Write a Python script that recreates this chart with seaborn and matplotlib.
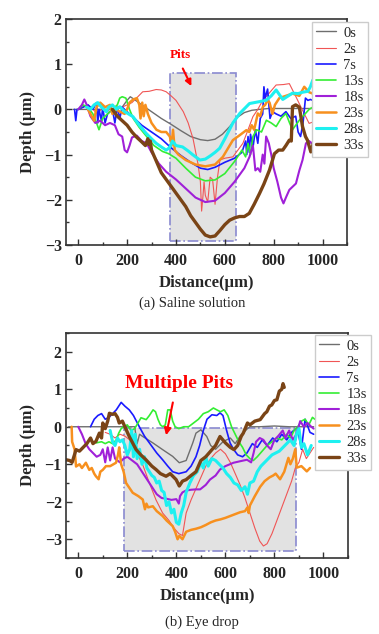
import matplotlib
matplotlib.use("Agg")
import matplotlib.pyplot as plt
import matplotlib.patches as mpatches
from matplotlib.ticker import MultipleLocator
import seaborn as sns

sns.set_style("ticks")
plt.rcParams['font.family'] = ['Liberation Serif', 'DejaVu Serif']
plt.rcParams['axes.unicode_minus'] = True

labels = ["0s", "2s", "7s", "13s", "18s", "23s", "28s", "33s"]
colors = ["#6e6e6e", "#f05555", "#1a1aff", "#33ee33", "#a020d8", "#f7901e", "#1ef0f0", "#7a4416"]
widths = [1.0, 0.8, 1.2, 1.2, 1.5, 1.8, 2.2, 2.4]

# ---- (a) Saline solution ----
sal_0s_x = [-20, 50, 100, 150, 180, 200, 213, 230, 260, 300, 340, 380, 420, 460, 500, 530, 560, 590, 620, 650, 680, 710, 740, 780, 850, 960]
sal_0s_y = [0, 0, 0, 0, 0.05, 0.2, 0.28, 0.22, 0.1, -0.05, -0.2, -0.33, -0.47, -0.6, -0.67, -0.69, -0.66, -0.55, -0.38, -0.18, -0.07, -0.02, 0, 0.02, 0.02, 0.02]

sal_2s_x = [0, 20, 40, 60, 80, 100, 120, 140, 160, 180, 200, 220, 244, 264, 290, 319, 340, 360, 380, 400, 430, 450, 470, 490, 500, 505, 510, 515, 520, 530, 540, 550, 560, 570, 580, 600, 633, 674, 695, 715, 735, 755, 780, 810, 840, 864, 891, 918, 945, 960]
sal_2s_y = [0, 0.05, 0.1, 0.0, -0.1, 0.05, -0.05, 0.1, 0.0, 0.05, 0.1, 0.15, 0.28, 0.39, 0.4, 0.44, 0.43, 0.39, 0.3, 0.2, -0.05, -0.3, -0.65, -1.2, -1.6, -2.25, -1.95, -1.6, -1.9, -2.05, -1.5, -1.55, -2.1, -1.5, -1.12, -1.08, -1.05, -0.75, -0.45, -0.16, 0.0, 0.2, 0.35, 0.54, 0.55, 0.57, 0.28, -0.02, -0.31, -0.28]

sal_7s_x = [-15, -10, -5, 0, 20, 40, 60, 75, 80, 85, 95, 100, 110, 120, 140, 150, 160, 170, 180, 200, 230, 260, 300, 340, 380, 420, 460, 500, 530, 560, 600, 640, 670, 685, 690, 695, 700, 705, 715, 725, 735, 745, 755, 760, 765, 775, 785, 795, 810, 830, 850, 870, 890, 900, 910, 920, 930, 940, 950, 960]
sal_7s_y = [0, -0.25, 0.0, 0.0, 0.05, 0.1, 0.0, 0.15, -0.3, 0.0, -0.25, 0.05, -0.3, -0.1, 0.0, -0.3, 0.05, -0.2, 0.05, -0.05, -0.2, -0.35, -0.5, -0.65, -0.85, -1.02, -1.17, -1.3, -1.33, -1.28, -1.17, -1.08, -0.95, -0.7, -1.0, -0.6, -0.95, -0.55, -0.85, -0.45, -0.75, -0.2, -0.1, 0.5, 0.25, 0.45, -0.2, -0.05, -0.1, -0.15, -0.05, -0.2, -0.15, -0.5, -0.6, -0.3, 0.25, 0.2, 0.22, 0.2]

sal_13s_x = [0, 20, 40, 60, 75, 85, 100, 120, 140, 160, 170, 180, 195, 210, 225, 250, 280, 310, 345, 370, 400, 440, 480, 520, 560, 600, 640, 670, 685, 695, 705, 715, 730, 750, 770, 790, 810, 830, 850, 865, 877, 890, 905, 920, 945, 960]
sal_13s_y = [0.0, 0.1, 0.05, -0.1, -0.3, -0.45, -0.2, -0.1, 0.0, 0.1, 0.25, 0.28, 0.25, 0.0, -0.2, -0.4, -0.6, -0.8, -0.93, -0.98, -1.08, -1.3, -1.5, -1.58, -1.56, -1.42, -1.15, -0.9, -1.05, -0.75, -1.0, -0.6, -0.45, -0.5, -0.24, -0.3, -0.38, -0.2, -0.09, -0.3, -0.45, -0.35, -0.24, -0.15, 0.0, 0.05]

sal_18s_x = [0, 15, 25, 35, 50, 70, 90, 110, 130, 150, 165, 180, 190, 200, 210, 220, 240, 260, 280, 300, 330, 360, 400, 440, 480, 520, 560, 600, 640, 680, 701, 715, 725, 735, 745, 755, 762, 769, 780, 790, 800, 815, 830, 840, 850, 864, 891, 905, 918, 932, 945, 955, 960]
sal_18s_y = [0.0, 0.1, 0.22, 0.1, -0.15, -0.3, -0.25, -0.35, -0.3, -0.35, -0.55, -0.6, -0.9, -0.95, -0.8, -0.62, -0.58, -0.7, -0.75, -0.95, -1.2, -1.38, -1.55, -1.75, -1.95, -2.05, -2.02, -1.85, -1.6, -1.3, -1.05, -0.8, -1.35, -1.3, -1.38, -1.0, -1.2, -0.6, -0.75, -1.0, -1.3, -1.6, -1.95, -2.08, -1.95, -1.78, -1.64, -1.35, -1.12, -0.75, -0.7, -0.75, -0.72]

sal_23s_x = [40, 55, 65, 75, 90, 110, 130, 140, 155, 170, 190, 200, 210, 225, 240, 250, 255, 262, 268, 275, 285, 300, 320, 340, 360, 375, 382, 388, 395, 410, 440, 480, 520, 560, 592, 633, 661, 688, 700, 710, 720, 735, 745, 755, 765, 775, 783, 795, 805, 823, 850, 877, 905, 925, 945, 960]
sal_23s_y = [0.0, -0.15, -0.25, 0.05, 0.15, 0.05, 0.1, -0.1, 0.0, -0.05, -0.1, 0.0, 0.15, 0.22, 0.25, 0.1, -0.2, 0.15, -0.15, 0.1, -0.1, -0.3, -0.45, -0.5, -0.5, -0.6, -0.8, -0.45, -0.9, -1.0, -1.12, -1.22, -1.26, -1.22, -1.05, -0.68, -0.57, -0.46, -0.5, -0.35, -0.45, -0.09, -0.15, 0.05, 0.1, 0.2, 0.15, -0.1, 0.1, 0.25, 0.3, 0.35, 0.3, 0.5, 0.38, 0.35]

sal_28s_x = [34, 50, 65, 80, 95, 115, 125, 140, 155, 170, 190, 224, 250, 278, 300, 319, 340, 360, 373, 386, 400, 427, 450, 468, 498, 520, 540, 560, 579, 600, 633, 661, 701, 740, 769, 790, 810, 837, 860, 877, 900, 918, 940, 950, 960]
sal_28s_y = [0.05, 0.0, 0.1, 0.15, 0.05, -0.05, 0.05, 0.1, 0.0, 0.06, -0.05, -0.16, -0.35, -0.53, -0.65, -0.75, -0.83, -0.9, -0.85, -0.7, -0.8, -0.83, -0.92, -1.0, -1.12, -1.1, -1.03, -0.95, -0.86, -0.65, -0.3, -0.09, 0.13, 0.17, 0.2, 0.3, 0.43, 0.22, 0.3, 0.36, 0.35, 0.38, 0.4, 0.5, 0.65]

sal_33s_x = [140, 160, 180, 200, 220, 240, 260, 275, 285, 290, 295, 300, 320, 340, 360, 380, 400, 420, 440, 460, 480, 500, 520, 540, 560, 580, 600, 620, 640, 660, 680, 700, 720, 742, 760, 783, 803, 820, 837, 850, 864, 872, 877, 890, 905, 918, 930, 938, 952, 965]
sal_33s_y = [0.0, -0.15, -0.25, -0.35, -0.5, -0.62, -0.72, -0.8, -0.65, -0.78, -0.7, -0.9, -1.15, -1.4, -1.55, -1.7, -1.85, -2.0, -2.15, -2.35, -2.5, -2.65, -2.78, -2.82, -2.8, -2.68, -2.55, -2.45, -2.4, -2.37, -2.37, -2.3, -2.1, -1.86, -1.65, -1.34, -0.98, -0.9, -0.9, -0.8, -0.68, -0.7, 0.06, 0.1, 0.05, -0.38, -0.6, -0.68, -0.94, -0.7]

# ---- (b) Eye drop ----
eye_0s_x = [-40, 0, 50, 100, 150, 200, 230, 240, 250, 263, 304, 344, 385, 412, 440, 467, 480, 500, 524, 540, 560, 590, 620, 640, 660, 690, 700, 740, 800, 860, 920, 960]
eye_0s_y = [0, 0, 0, 0, 0, 0, 0, -0.45, -0.2, -0.26, -0.43, -0.61, -0.79, -0.96, -0.9, -0.43, -0.17, -0.08, -0.26, -0.5, -0.6, -0.4, -0.3, -0.45, -0.25, -0.05, 0.0, 0.0, 0.02, 0.0, 0.0, 0.0]

eye_2s_x = [110, 130, 150, 170, 190, 210, 230, 250, 265, 290, 317, 344, 370, 390, 410, 425, 440, 460, 480, 500, 520, 540, 560, 580, 600, 620, 640, 660, 680, 700, 720, 740, 755, 770, 790, 810, 830, 850, 870, 885, 900, 915, 930, 945, 960]
eye_2s_y = [-0.15, -0.2, -0.3, -0.2, -0.25, -0.35, -0.5, -0.85, -1.05, -1.5, -1.95, -2.3, -2.5, -2.7, -2.85, -2.9, -2.3, -1.95, -1.65, -1.35, -1.05, -0.85, -0.7, -0.6, -0.72, -0.95, -1.25, -1.55, -1.9, -2.3, -2.7, -3.05, -3.18, -3.12, -2.85, -2.5, -2.15, -1.8, -1.45, -1.1, -0.95, -0.6, -0.85, -0.7, -0.55]

eye_7s_x = [50, 65, 80, 95, 110, 125, 140, 155, 175, 190, 208, 225, 249, 270, 290, 320, 344, 365, 385, 410, 440, 460, 480, 495, 510, 525, 545, 565, 578, 590, 605, 619, 633, 650, 670, 688, 710, 730, 750, 770, 793, 810, 830, 850, 870, 893, 910, 925, 945, 960]
eye_7s_y = [0.0, 0.2, 0.3, 0.35, 0.2, 0.25, 0.35, 0.45, 0.65, 0.55, 0.45, 0.3, 0.0, -0.25, -0.43, -0.7, -0.88, -1.05, -1.2, -1.25, -1.2, -1.05, -0.8, -0.5, -0.1, 0.2, 0.32, 0.3, 0.37, 0.3, -0.1, -0.43, -0.6, -0.75, -0.8, -0.7, -0.45, -0.55, -0.35, -0.5, -0.3, -0.4, -0.2, -0.35, -0.15, -0.02, -0.6, 0.2, -0.15, -0.2]

eye_13s_x = [73, 95, 110, 125, 140, 155, 165, 175, 185, 200, 215, 230, 256, 277, 290, 305, 315, 325, 335, 345, 355, 365, 375, 385, 395, 410, 430, 450, 470, 490, 510, 530, 551, 565, 580, 595, 610, 625, 640, 655, 670, 685, 700, 714, 730, 750, 770, 790, 810, 830, 850, 865, 880, 895, 910, 925, 940, 955, 965]
eye_13s_y = [-0.43, -0.4, -0.45, -0.4, -0.45, -0.35, -0.17, -0.05, 0.0, 0.05, -0.1, -0.05, 0.24, 0.19, 0.3, 0.45, 0.4, 0.2, 0.05, 0.0, 0.05, 0.45, 0.45, 0.15, 0.0, -0.05, 0.0, 0.0, 0.1, 0.2, 0.35, 0.4, 0.5, 0.45, 0.4, 0.45, 0.3, 0.0, -0.2, -0.4, -0.55, -0.75, -0.85, -0.9, -0.8, -0.65, -0.5, -0.4, -0.3, -0.35, -0.2, -0.3, -0.1, 0.0, 0.15, 0.2, 0.05, 0.25, 0.2]

eye_18s_x = [0, 15, 30, 45, 60, 75, 90, 100, 110, 120, 130, 140, 150, 160, 170, 185, 200, 220, 240, 260, 280, 300, 320, 340, 360, 380, 400, 410, 415, 425, 440, 460, 480, 497, 520, 537, 560, 578, 600, 633, 660, 688, 705, 715, 725, 740, 755, 770, 785, 800, 815, 834, 845, 860, 875, 890, 905, 920, 935, 950, 960]
eye_18s_y = [0.0, -0.2, -0.45, -0.6, -0.7, -0.8, -0.75, -0.6, -0.95, -0.55, -0.9, -0.55, -0.85, -0.9, -0.95, -0.85, -0.8, -0.9, -1.0, -1.2, -1.4, -1.6, -1.8, -1.9, -1.92, -1.95, -1.93, -2.05, -1.85, -1.75, -1.7, -1.68, -1.67, -1.67, -1.55, -1.41, -1.3, -1.14, -1.05, -0.96, -0.92, -0.88, -0.95, -0.7, -0.4, -0.3, -0.35, -0.5, -0.6, -0.35, -0.25, -0.1, -0.3, -0.1, -0.35, -0.2, 0.15, 0.0, 0.1, 0.0, -0.05]

eye_23s_x = [-27, -25, -15, -9, 5, 15, 31, 45, 55, 65, 72, 83, 90, 100, 113, 130, 154, 162, 167, 175, 185, 195, 222, 245, 263, 272, 278, 285, 304, 320, 344, 360, 385, 395, 405, 412, 425, 440, 460, 480, 500, 520, 540, 560, 580, 600, 620, 640, 660, 680, 690, 695, 700, 720, 742, 760, 780, 795, 805, 823, 840, 857, 865, 875, 885, 891, 910, 932, 945]
eye_23s_y = [0.0, -0.4, -0.6, -1.06, -1.0, -1.1, -0.96, -1.15, -1.1, -1.25, -1.32, -1.4, -1.2, -1.15, -1.05, -1.05, -0.96, -0.75, -0.55, -1.0, -1.2, -1.5, -1.76, -1.85, -1.94, -2.2, -2.05, -2.15, -2.12, -2.25, -2.38, -2.5, -2.65, -2.8, -3.0, -2.91, -3.0, -2.8, -2.75, -2.72, -2.68, -2.62, -2.55, -2.5, -2.47, -2.43, -2.38, -2.33, -2.28, -2.25, -2.15, -2.3, -2.1, -1.85, -1.6, -1.45, -1.35, -1.3, -1.25, -1.4, -1.2, -0.83, -1.0, -0.85, -0.6, -1.09, -1.05, -1.19, -1.1]

eye_28s_x = [130, 140, 150, 160, 170, 180, 190, 200, 210, 218, 225, 232, 240, 250, 260, 270, 280, 290, 300, 310, 320, 330, 340, 350, 360, 370, 380, 390, 400, 410, 420, 430, 440, 455, 470, 485, 500, 510, 520, 530, 545, 560, 575, 590, 605, 620, 635, 650, 665, 680, 690, 700, 715, 730, 745, 760, 775, 790, 805, 820, 835, 850, 865, 880, 890, 900, 910, 920, 935, 950]
eye_28s_y = [-0.1, -0.4, -0.5, -0.3, -0.4, -0.35, -0.5, -0.75, -0.6, -0.1, -0.8, -0.2, -0.85, -0.6, -1.0, -0.8, -1.1, -1.2, -1.3, -1.35, -1.5, -1.45, -1.7, -1.75, -2.1, -2.0, -2.3, -2.2, -2.55, -2.6, -2.3, -2.1, -1.75, -1.5, -1.3, -1.2, -0.95, -1.1, -0.8, -1.05, -0.85, -0.9, -1.0, -1.1, -1.25, -1.35, -1.5, -1.55, -1.7, -1.6, -1.8, -1.5, -1.45, -1.2, -1.05, -0.95, -0.85, -0.75, -0.7, -0.65, -0.55, -0.45, -0.35, -0.5, -0.2, -0.05, -0.55, -0.45, -0.75, -0.5]

eye_33s_x = [-50, -35, -25, -9, 5, 20, 35, 50, 60, 72, 86, 95, 100, 110, 120, 127, 140, 150, 160, 167, 180, 190, 208, 236, 255, 276, 300, 317, 335, 358, 375, 399, 412, 425, 440, 460, 480, 500, 520, 540, 560, 578, 600, 620, 635, 650, 665, 673, 690, 700, 720, 742, 760, 769, 780, 789, 800, 810, 820, 830, 835, 840]
eye_33s_y = [-0.88, -0.9, -0.95, -0.61, -0.65, -0.55, -0.45, -0.3, -0.45, -0.39, -0.17, -0.3, 0.1, -0.05, 0.15, 0.36, 0.33, 0.35, 0.25, 0.1, 0.15, 0.0, -0.26, -0.61, -0.75, -0.88, -1.05, -1.14, -1.25, -1.32, -1.25, -1.41, -1.58, -1.45, -1.41, -1.3, -1.2, -0.9, -0.8, -0.65, -0.5, -0.26, -0.43, -0.55, -0.61, -0.5, -0.25, -0.17, 0.1, 0.05, 0.15, 0.19, 0.35, 0.4, 0.55, 0.58, 0.7, 0.72, 0.95, 1.0, 1.15, 1.05]

sal_series = [(sal_0s_x, sal_0s_y), (sal_2s_x, sal_2s_y), (sal_7s_x, sal_7s_y), (sal_13s_x, sal_13s_y),
              (sal_18s_x, sal_18s_y), (sal_23s_x, sal_23s_y), (sal_28s_x, sal_28s_y), (sal_33s_x, sal_33s_y)]
eye_series = [(eye_0s_x, eye_0s_y), (eye_2s_x, eye_2s_y), (eye_7s_x, eye_7s_y), (eye_13s_x, eye_13s_y),
              (eye_18s_x, eye_18s_y), (eye_23s_x, eye_23s_y), (eye_28s_x, eye_28s_y), (eye_33s_x, eye_33s_y)]

W, H = 379, 634
fig = plt.figure(figsize=(W / 100, H / 100), dpi=100)
ax_a = fig.add_axes([66 / W, 1 - 245 / H, 281 / W, 226 / H])
ax_b = fig.add_axes([66 / W, 1 - 558 / H, 282 / W, 225 / H])


def draw_panel(ax, series, ylim, rect, legend_xy):
    # shaded pit region
    ax.add_patch(mpatches.Rectangle((rect[0], rect[2]), rect[1] - rect[0], rect[3] - rect[2],
                                    facecolor="#e2e2e2", edgecolor="#8a8ad0", ls="-.", lw=1.2, zorder=0))
    for (xs, ys), lab, col, lw in zip(series, labels, colors, widths):
        sns.lineplot(x=xs, y=ys, ax=ax, color=col, lw=lw, label=lab, sort=False, estimator=None)
    ax.set_xlim(-50, 1100)
    ax.set_ylim(*ylim)
    ax.xaxis.set_major_locator(MultipleLocator(200))
    ax.xaxis.set_minor_locator(MultipleLocator(100))
    ax.yaxis.set_major_locator(MultipleLocator(1))
    ax.yaxis.set_minor_locator(MultipleLocator(0.5))
    ax.tick_params(which="both", direction="in", color="#333333", width=1, labelsize=11.5, pad=3)
    ax.tick_params(axis="x", which="both", pad=6)
    ax.tick_params(which="major", length=4)
    ax.tick_params(which="minor", length=2)
    for lbl in ax.get_xticklabels() + ax.get_yticklabels():
        lbl.set_fontweight("bold")
    for sp in ax.spines.values():
        sp.set_color("#333333")
        sp.set_linewidth(1.2)
    ax.set_xlabel("Distance(μm)", fontsize=12, fontweight="bold", labelpad=4)
    ax.set_ylabel("Depth (μm)", fontsize=12, fontweight="bold", labelpad=6)
    leg = ax.legend(loc="upper left", bbox_to_anchor=legend_xy, bbox_transform=fig.transFigure,
                    borderaxespad=0, fontsize=10.5, handlelength=1.35, handletextpad=0.5,
                    labelspacing=0.2, borderpad=0.3, frameon=True, fancybox=False,
                    framealpha=1, edgecolor="#cccccc")
    leg.set_zorder(10)


draw_panel(ax_a, sal_series, (-3, 2), (375, 645, -2.92, 0.8), (312 / W, 1 - 22 / H))
draw_panel(ax_b, eye_series, (-3.5, 2.5), (185, 887, -3.3, -0.03), (315 / W, 1 - 335 / H))

ax_a.annotate("", xy=(468, 0.46), xytext=(423, 0.96),
              arrowprops=dict(arrowstyle="-|>", color="red", lw=1.5, mutation_scale=9))
ax_a.text(417, 1.2, "Pits", color="red", fontsize=9.5, fontweight="bold", ha="center", va="center")

ax_b.annotate("", xy=(356, -0.3), xytext=(388, 0.72),
              arrowprops=dict(arrowstyle="-|>", color="red", lw=1.5, mutation_scale=10))
ax_b.text(410, 1.14, "Multiple Pits", color="red", fontsize=14, fontweight="bold", ha="center", va="center")

fig.text(192 / W, 1 - 303 / H, "(a) Saline solution", fontsize=10.5, ha="center", va="center")
fig.text(202 / W, 1 - 622 / H, "(b) Eye drop", fontsize=10.5, ha="center", va="center")

fig.savefig("out.png", dpi=100)
